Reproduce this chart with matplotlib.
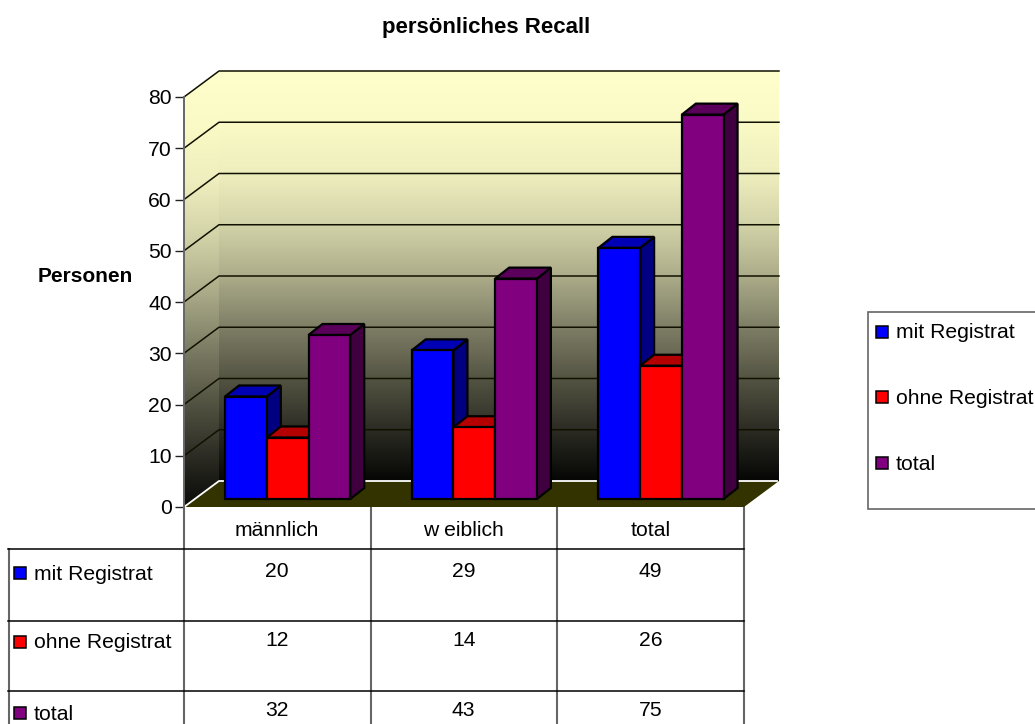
import numpy as np
import matplotlib
matplotlib.use("Agg")
import matplotlib.pyplot as plt
from matplotlib.colors import LinearSegmentedColormap
from matplotlib.patches import Polygon, Rectangle

plt.rcParams["font.family"] = ["Liberation Sans", "DejaVu Sans"]

categories = ["männlich", "w eiblich", "total"]
series_names = ["mit Registrat", "ohne Registrat", "total"]
mit_registrat = [20, 29, 49]
ohne_registrat = [12, 14, 26]
total = [32, 43, 75]
y_ticks = [0, 10, 20, 30, 40, 50, 60, 70, 80]

W, H = 1035, 724
FRONT, SIDE, TOP = 0, 1, 2
FS = 15.2
colors = [("#0000FF", "#000080", "#0000B4"),
          ("#FF0000", "#800000", "#B40000"),
          ("#800080", "#400040", "#5A005A")]

fig = plt.figure(figsize=(W / 100, H / 100), dpi=100)

# plot box is the front plane of the 3d frame, in value units
left, right, top, bottom = 184, 744, 97, 507
ax = fig.add_axes([left / W, 1 - bottom / H, (right - left) / W, (bottom - top) / H])
ax.patch.set_visible(False)

# pixel overlay for the table and the legend
pax = fig.add_axes([0, 0, 1, 1], zorder=-1)
pax.set_xlim(0, W)
pax.set_ylim(H, 0)
pax.axis("off")

px_x = 3 / (right - left)
px_y = 80 / (bottom - top)
depth_x = 35 * px_x
depth_y = 26 * px_y

# walls, pale yellow fading to black towards the floor
wall_cmap = LinearSegmentedColormap.from_list("wall", [
    (0.0, "#FFFFCC"), (0.127, "#FAFAC6"), (0.249, "#EEEEBE"), (0.377, "#D2D2A8"),
    (0.5, "#ACAC8A"), (0.626, "#7E7E66"), (0.748, "#555544"), (0.875, "#2C2C24"),
    (1.0, "#060605")])
grad = np.linspace(0, 1, 256).reshape(-1, 1)
ax.imshow(grad, cmap=wall_cmap, aspect="auto", zorder=1,
          extent=[depth_x, 3 + depth_x, depth_y, 80 + depth_y], clip_on=False)
side = ax.imshow(grad, cmap=wall_cmap, aspect="auto", zorder=1,
                 extent=[0, depth_x, -1, 80 + depth_y])
side_shape = Polygon([(0, 0), (depth_x, depth_y), (depth_x, 80 + depth_y), (0, 80)],
                     transform=ax.transData, fill=False, lw=0)
ax.add_patch(side_shape)
side.set_clip_box(fig.bbox)
side.set_clip_path(side_shape)

# floor
ax.add_patch(Polygon([(0, 0), (3, 0), (3 + depth_x, depth_y), (depth_x, depth_y)],
                     fc="#333300", ec="none", zorder=2, clip_on=False))
ax.plot([0, depth_x, 3 + depth_x - 2 * px_x], [0, depth_y, depth_y], color="white",
        lw=1.3, zorder=3, clip_on=False)

# gridlines
for v in y_ticks[1:]:
    ax.plot([0, depth_x, 3 + depth_x], [v, v + depth_y, v + depth_y], color="#111100",
            lw=1.1, zorder=3, clip_on=False)

# bars
bar_w = 0.2235
bar_off = 0.22
base = 8 * px_y
dx = 14 * px_x
dy = 11 * px_y
for i, vals in enumerate([mit_registrat, ohne_registrat, total]):
    for j, v in enumerate(vals):
        x0 = j + bar_off + i * bar_w
        x1 = x0 + bar_w
        y0 = base
        y1 = base + v
        c = colors[i]
        ax.add_patch(Polygon([(x1, y0), (x1 + dx, y0 + dy), (x1 + dx, y1 + dy), (x1, y1)],
                             fc=c[SIDE], ec="black", lw=1.6, zorder=4 + i, clip_on=False, joinstyle="miter"))
        ax.add_patch(Polygon([(x0, y1), (x1, y1), (x1 + dx, y1 + dy), (x0 + dx, y1 + dy)],
                             fc=c[TOP], ec="black", lw=1.6, zorder=4 + i, clip_on=False, joinstyle="miter"))
        ax.add_patch(Rectangle((x0, y0), bar_w, v, fc=c[FRONT], ec="black", lw=1.6,
                               zorder=4 + i, clip_on=False, joinstyle="miter"))

ax.set_xlim(0, 3)
ax.set_ylim(0, 80)
ax.set_xticks([])
ax.set_yticks(y_ticks)
ax.tick_params(axis="y", length=6.5, width=1, pad=2.2, labelsize=FS, color="#222222")
for name, sp in ax.spines.items():
    sp.set_visible(name == "left")
ax.spines["left"].set_color("#666666")
ax.spines["left"].set_linewidth(1.4)
ax.spines["left"].set_zorder(3)

fig.text(486.5 / W, 1 - 28 / H, "persönliches Recall", ha="center", va="center",
         fontsize=16, fontweight="bold")
fig.text(85.5 / W, 1 - 277 / H, "Personen", ha="center", va="center",
         fontsize=15, fontweight="bold")

# data table
col_x = [184, 370.5, 557, 744]
row_y = [507, 549, 621, 691, 724]
text_y = [571.5, 641, 711]
label_y = [573, 642, 713]
for x in [8.5] + col_x:
    y_start = row_y[1] if x < left else row_y[0]
    pax.plot([x, x], [y_start, row_y[-1]], color="#666666", lw=1.5)
for y in row_y[1:-1]:
    pax.plot([8, 744], [y, y], color="black", lw=1.1)
for j, cat in enumerate(categories):
    pax.text((col_x[j] + col_x[j + 1]) / 2, 530, cat, ha="center", va="center", fontsize=FS)
for i, vals in enumerate([mit_registrat, ohne_registrat, total]):
    pax.add_patch(Rectangle((13.5, label_y[i] - 6.5), 12, 12, fc=colors[i][FRONT], ec="black", lw=1.1))
    pax.text(33.5, label_y[i] + 1, series_names[i], ha="left", va="center", fontsize=FS)
    for j, v in enumerate(vals):
        pax.text((col_x[j] + col_x[j + 1]) / 2, text_y[i], str(v), ha="center", va="center", fontsize=FS)

# legend box runs past the right edge of the figure
pax.add_patch(Rectangle((868, 312), 180, 197, fc="white", ec="#666666", lw=1.2, zorder=1))
for i, y in enumerate([332, 397, 463]):
    pax.add_patch(Rectangle((875.5, y - 6), 12, 12, fc=colors[i][FRONT], ec="black", lw=1.1, zorder=2))
    pax.text(896, y + 1, series_names[i], ha="left", va="center", fontsize=FS, zorder=2)

fig.savefig("out.png", dpi=100)
